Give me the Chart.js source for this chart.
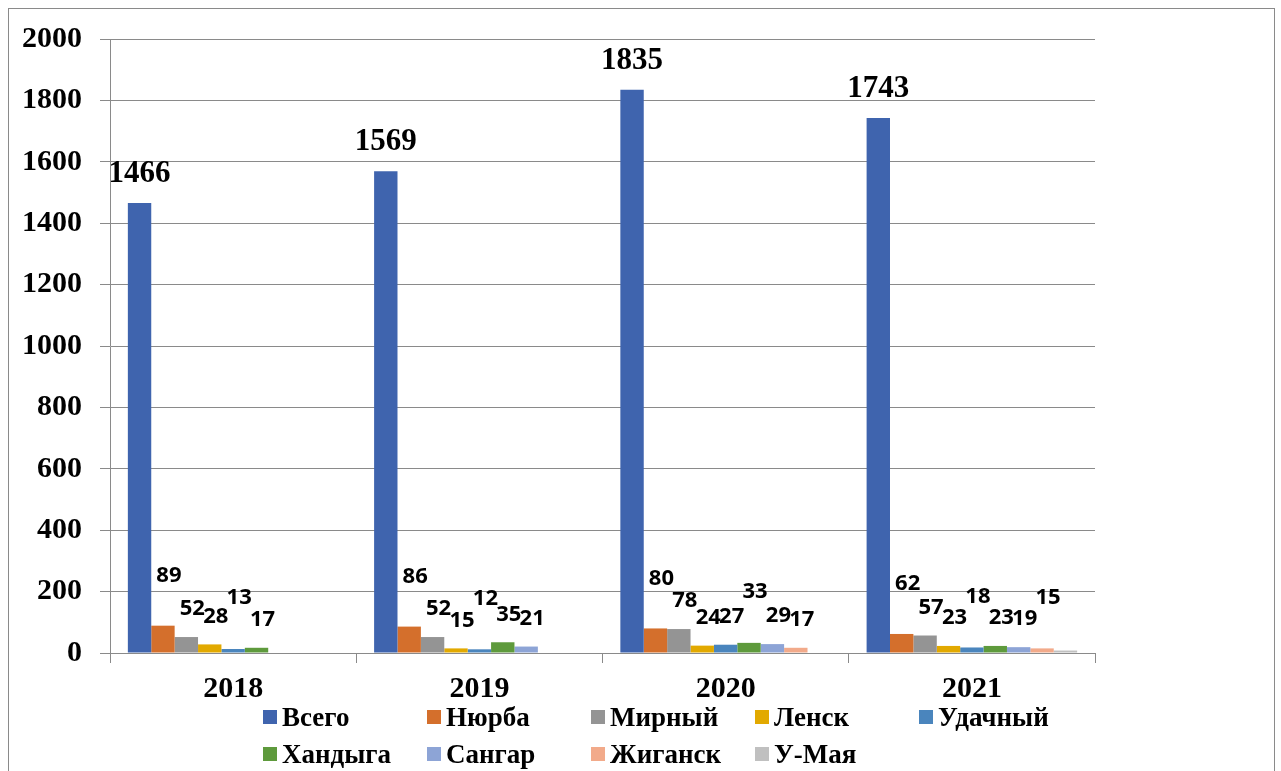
<!DOCTYPE html>
<html>
<head>
<meta charset="utf-8">
<script src="https://cdn.jsdelivr.net/npm/chart.js@4.4.1/dist/chart.umd.min.js"></script>
<style>
    body { margin: 0; background: #fff; }
    #wrap { position: relative; width: 1281px; height: 771px; overflow: hidden; }
    #frame { position: absolute; left: 8px; top: 8px; width: 1267px; height: 800px; border: 1px solid #8a8a8a; box-sizing: border-box; }
    canvas { position: absolute; left: 0; top: 0; }
    #legend { position: absolute; left: 263px; top: 701px; width: 840px; display: grid; grid-template-columns: repeat(5, 164px); row-gap: 5px;
              font: bold 27px "Liberation Serif", serif; color: #000; }
    .item { display: flex; align-items: center; height: 32px; white-space: nowrap; }
    .box { width: 14px; height: 14px; margin-right: 5px; flex: none; }
</style>
</head>
<body>
<div id="wrap">
    <div id="frame"></div>
    <canvas id="chart" width="1281" height="771"></canvas>
    <div id="legend"></div>
</div>
<script>
// years on the x axis
const years = ['2018', '2019', '2020', '2021'];

// one array per place
const vsego    = [1466, 1569, 1835, 1743];
const nyurba   = [89, 86, 80, 62];
const mirny    = [52, 52, 78, 57];
const lensk    = [28, 15, 24, 23];
const udachny  = [13, 12, 27, 18];
const khandyga = [17, 35, 33, 23];
const sangar   = [null, 21, 29, 19];
const zhigansk = [null, null, 17, 15];
const uMaya    = [null, null, null, 8];

const yTicks = [0, 200, 400, 600, 800, 1000, 1200, 1400, 1600, 1800, 2000];

const series = [
    { label: 'Всего',   data: vsego,    color: '#3f64ae' },
    { label: 'Нюрба',   data: nyurba,   color: '#d46f2c' },
    { label: 'Мирный',  data: mirny,    color: '#949494' },
    { label: 'Ленск',   data: lensk,    color: '#e2a900' },
    { label: 'Удачный', data: udachny,  color: '#4a85bd' },
    { label: 'Хандыга', data: khandyga, color: '#5e9a3c' },
    { label: 'Сангар',  data: sangar,   color: '#8da4d6' },
    { label: 'Жиганск', data: zhigansk, color: '#f2aa8a' },
    { label: 'У-Мая',   data: uMaya,    color: '#c0c0c0' }
];

// values drawn above bars; in a run of touching small labels every third one is lifted
const valueLabels = {
    id: 'valueLabels',
    afterDatasetsDraw(chart) {
        const ctx = chart.ctx;
        ctx.save();
        ctx.textAlign = 'center';
        ctx.textBaseline = 'middle';
        ctx.fillStyle = '#000';
        for (let i = 0; i < years.length; i++) {
            let prev = null;
            let run = 0;
            chart.data.datasets.forEach((ds, d) => {
                const v = ds.data[i];
                if (v == null || v < 10) return;
                const bar = chart.getDatasetMeta(d).data[i];
                if (d === 0) {
                    ctx.font = 'bold 31px "Liberation Serif", serif';
                    ctx.fillText(String(v), bar.x, bar.y - 29);
                    return;
                }
                ctx.font = 'bold 22px "Noto Sans", sans-serif';
                const w = ctx.measureText(String(v)).width;
                const x = bar.x + 6;
                if (d === 1) {
                    ctx.fillText(String(v), x, bar.y - 50);
                    return;
                }
                let y = bar.y - 28;
                const touches = prev && x - w / 2 < prev.x + prev.w / 2 + 2 && Math.abs(prev.y - y) < 14;
                run = touches ? run + 1 : 1;
                if (run === 3) {
                    y -= 23;
                    run = 0;
                }
                ctx.fillText(String(v), x, y);
                prev = { x, y, w };
            });
        }
        ctx.restore();
    }
};

const tickFont = { family: '"Liberation Serif", serif', size: 30, weight: 'bold' };

const chart = new Chart(document.getElementById('chart'), {
    type: 'bar',
    data: {
        labels: years,
        datasets: series.map(s => ({
            label: s.label,
            data: s.data,
            backgroundColor: s.color,
            borderWidth: 0,
            barPercentage: 1.0,
            categoryPercentage: 0.855
        }))
    },
    options: {
        responsive: false,
        animation: false,
        layout: { padding: { left: 0, top: 39, right: 186, bottom: 0 } },
        plugins: {
            legend: { display: false },
            tooltip: { enabled: false }
        },
        scales: {
            x: {
                afterFit: s => { s.height = 771 - 653; },
                grid: {
                    offset: true,
                    drawOnChartArea: false,
                    drawTicks: true,
                    tickLength: 10,
                    color: '#8a8a8a'
                },
                border: { color: '#8a8a8a' },
                ticks: { color: '#000', padding: 8, font: tickFont }
            },
            y: {
                min: 0,
                max: 2000,
                afterFit: s => { s.width = 110; },
                afterBuildTicks: s => { s.ticks = yTicks.map(v => ({ value: v })); },
                grid: { color: '#8a8a8a', tickLength: 10 },
                border: { color: '#8a8a8a' },
                ticks: {
                    color: '#000',
                    padding: 18,
                    font: tickFont,
                    callback: v => String(v)
                }
            }
        }
    },
    plugins: [valueLabels]
});

// legend in two rows of fixed columns, built from the datasets
const legend = document.getElementById('legend');
chart.data.datasets.forEach(ds => {
    const item = document.createElement('div');
    item.className = 'item';
    item.innerHTML = '<span class="box" style="background:' + ds.backgroundColor + '"></span>' + ds.label;
    legend.appendChild(item);
});
</script>
</body>
</html>
